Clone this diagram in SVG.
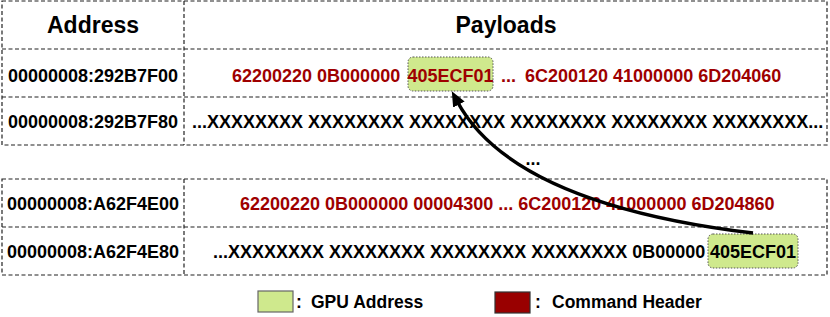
<svg xmlns="http://www.w3.org/2000/svg" width="830" height="317" viewBox="0 0 830 317">
  <style>
    .grid { fill: none; stroke: #222; stroke-width: 1.2; stroke-dasharray: 4 2.5; }
    .t { font-family: "Liberation Sans", Arial, sans-serif; font-weight: bold; font-size: 18px; fill: #000; }
    .hdr { font-size: 23px; }
    .red { fill: #9e0000; }
    .leg { font-size: 17.5px; }
    .gbox { fill: #cfe98d; stroke: #555; stroke-width: 1; stroke-dasharray: 1.5 1.5; }
    .conn { fill: none; stroke: #000; stroke-width: 3.5; }
  </style>
  <defs>
    <marker id="ah" markerUnits="userSpaceOnUse" markerWidth="16" markerHeight="14" refX="4" refY="6.5" orient="auto">
      <path d="M0,0 L15,6.5 L0,13 z" fill="#000"/>
    </marker>
  </defs>

  <rect width="830" height="317" fill="#fff"/>

  <g id="table-top">
    <rect class="grid" x="2" y="1" width="825" height="144"/>
    <line class="grid" x1="2" y1="49" x2="827" y2="49"/>
    <line class="grid" x1="2" y1="97" x2="827" y2="97"/>
    <line class="grid" x1="184" y1="1" x2="184" y2="145"/>
  </g>

  <g id="table-bottom">
    <rect class="grid" x="2" y="179" width="825" height="96"/>
    <line class="grid" x1="2" y1="227" x2="827" y2="227"/>
    <line class="grid" x1="184" y1="179" x2="184" y2="275"/>
  </g>

  <g id="header">
    <text class="t hdr" x="93" y="33" text-anchor="middle">Address</text>
    <text class="t hdr" x="506" y="33" text-anchor="middle">Payloads</text>
  </g>

  <g id="row1">
    <text class="t" x="93" y="82" text-anchor="middle">00000008:292B7F00</text>
    <text class="t red" x="232" y="82">62200220 0B000000</text>
    <g id="gpu-addr-target">
      <rect class="gbox" x="408" y="57" width="85" height="34" rx="5"/>
      <text class="t red" x="450.5" y="82" text-anchor="middle">405ECF01</text>
    </g>
    <text class="t red" x="501" y="82">...</text>
    <text class="t red" x="525" y="82">6C200120 41000000 6D204060</text>
  </g>

  <g id="row2">
    <text class="t" x="93" y="128" text-anchor="middle">00000008:292B7F80</text>
    <text class="t" x="192" y="128">...XXXXXXXX XXXXXXXX XXXXXXXX XXXXXXXX XXXXXXXX XXXXXXXX...</text>
  </g>

  <g id="gap">
    <text class="t" x="533" y="165" text-anchor="middle">...</text>
  </g>

  <g id="row3">
    <text class="t" x="93" y="210" text-anchor="middle">00000008:A62F4E00</text>
    <text class="t red" x="240" y="210">62200220 0B000000 00004300 ... 6C200120 41000000 6D204860</text>
  </g>

  <g id="row4">
    <text class="t" x="93" y="258" text-anchor="middle">00000008:A62F4E80</text>
    <text class="t" x="213" y="258">...XXXXXXXX XXXXXXXX XXXXXXXX XXXXXXXX 0B00000</text>
    <g id="gpu-addr-source">
      <rect class="gbox" x="708" y="234" width="90" height="34" rx="5"/>
      <text class="t" x="753" y="258" text-anchor="middle">405ECF01</text>
    </g>
  </g>

  <g id="connectors">
    <path class="conn" d="M753,233 Q512,204 457,101" marker-end="url(#ah)"/>
  </g>

  <g id="legend">
    <rect x="258" y="291" width="35" height="21" fill="#cfe98d" stroke="#666" stroke-width="1.2"/>
    <text class="t leg" x="296" y="308">:</text>
    <text class="t leg" x="311" y="308">GPU Address</text>
    <rect x="495" y="292" width="35" height="21" fill="#990000" stroke="#333" stroke-width="1.2"/>
    <text class="t leg" x="535" y="308">:</text>
    <text class="t leg" x="552" y="308">Command Header</text>
  </g>
</svg>
